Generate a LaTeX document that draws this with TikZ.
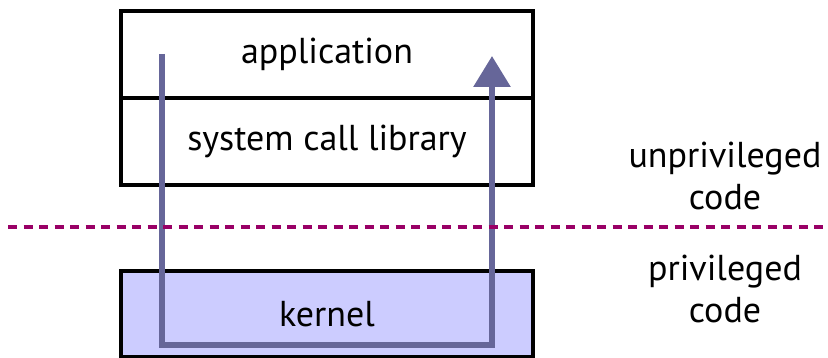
\documentclass[tikz,border=0pt]{standalone}
\usepackage{fontspec}
\setmainfont{PT Sans}
\usetikzlibrary{arrows.meta}
\definecolor{flow}{HTML}{666699}
\definecolor{kfill}{HTML}{CCCCFF}
\definecolor{divide}{HTML}{990066}
\begin{document}
\begin{tikzpicture}[x=1pt,y=-1pt,
  layer/.style={draw=black,line width=4pt,minimum width=412pt,anchor=north west,inner sep=0pt,font=\fontsize{36}{40}\selectfont},
  lbl/.style={align=center,font=\fontsize{36}{42}\selectfont,inner sep=0pt},
  flowline/.style={draw=flow,line width=6pt},
]
\useasboundingbox (0,0) rectangle (828,358);
\node[layer,minimum height=87pt] (app) at (119,9) {application};
\node[layer,minimum height=87pt] (lib) at (119,96) {system call library};
\node[layer,minimum height=86pt,fill=kfill] (kern) at (119,269) {kernel};
\coordinate (s) at (162,54);
\coordinate (bl) at (162,345);
\coordinate (br) at (492,345);
\coordinate (e) at (492,56);
\draw[flowline,line join=miter,-{Triangle[length=31pt,width=36pt]}] (s) -- (bl) -- (br) -- (e);
\coordinate (d1) at (8,227);
\coordinate (d2) at (828,227);
\draw[divide,line width=4pt,dash pattern=on 9pt off 6.5pt] (d1) -- (d2);
\node[lbl] (unp) at (725,176) {unprivileged\\code};
\node[lbl] (pri) at (725,289) {privileged\\code};
\end{tikzpicture}
\end{document}
